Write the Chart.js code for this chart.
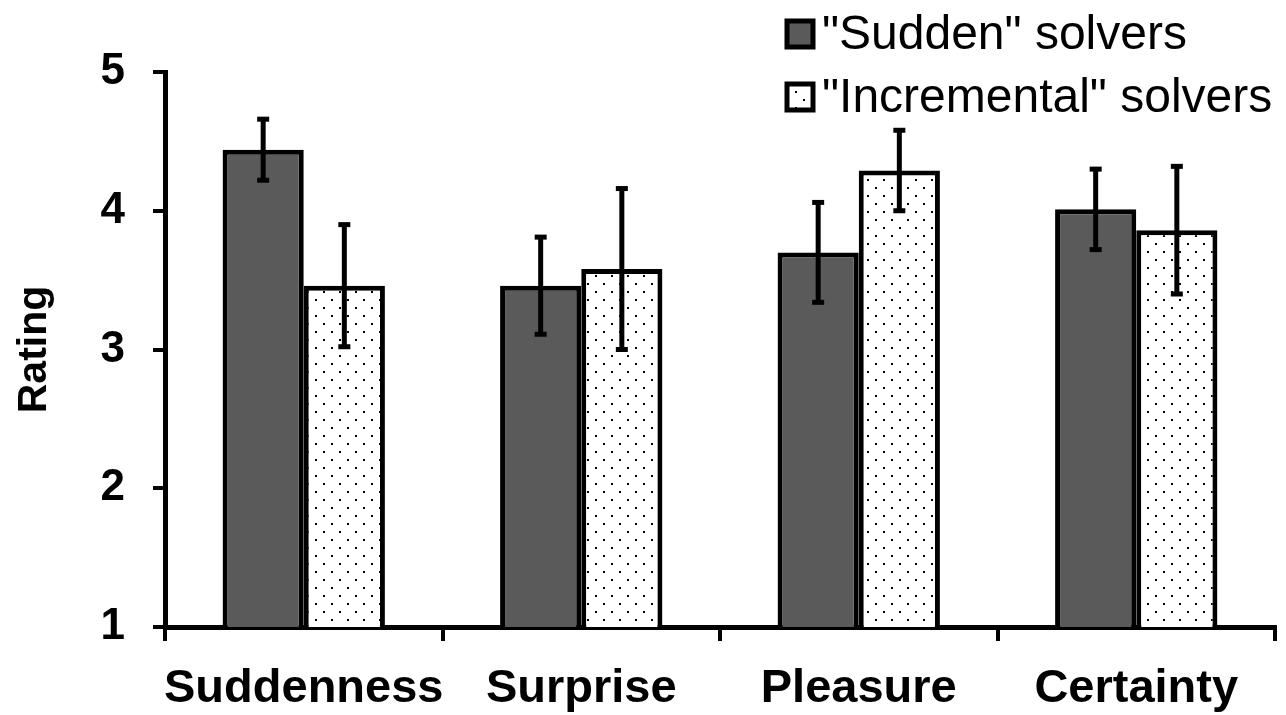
<!DOCTYPE html>
<html>
<head>
<meta charset="utf-8">
<script src="https://cdn.jsdelivr.net/npm/chart.js@4.4.1/dist/chart.umd.min.js"></script>
<style>
  html, body { margin: 0; padding: 0; background: #fff; }
  #wrap { width: 1286px; height: 715px; }
</style>
</head>
<body>
<div id="wrap"><canvas id="c" width="1286" height="715"></canvas></div>
<script>
// Ratings by measure, for the two solver groups (mean and error half-width)
const categories = ['Suddenness', 'Surprise', 'Pleasure', 'Certainty'];
const seriesNames = ['"Sudden" solvers', '"Incremental" solvers'];
const suddenMeans = [4.44, 3.46, 3.70, 4.01];
const suddenErrors = [0.22, 0.35, 0.36, 0.29];
const incrementalMeans = [3.46, 3.58, 4.29, 3.86];
const incrementalErrors = [0.44, 0.58, 0.29, 0.46];
const yTicks = [1, 2, 3, 4, 5];

const FONT = "'Liberation Sans', Arial, sans-serif";
const SUDDEN_FILL = '#5a5a5a';

const canvas = document.getElementById('c');
const ctx = canvas.getContext('2d');

// Stippled white fill for the incremental group
function makeDots(context) {
  const tile = document.createElement('canvas');
  tile.width = 16; tile.height = 16;
  const g = tile.getContext('2d');
  g.fillStyle = '#fff';
  g.fillRect(0, 0, 16, 16);
  g.fillStyle = '#000';
  g.fillRect(3, 3, 2, 2);
  g.fillRect(11, 11, 2, 2);
  return context.createPattern(tile, 'repeat');
}
const dots = makeDots(ctx);

const errorSets = [suddenErrors, incrementalErrors];

// Vertical error bars with flat caps, centred on each bar
const errorBars = {
  id: 'errorBars',
  afterDatasetsDraw(chart) {
    const c = chart.ctx;
    const y = chart.scales.y;
    c.save();
    c.strokeStyle = '#000';
    c.fillStyle = '#000';
    chart.data.datasets.forEach((ds, di) => {
      const meta = chart.getDatasetMeta(di);
      meta.data.forEach((bar, i) => {
        const v = ds.data[i];
        const e = errorSets[di][i];
        const top = y.getPixelForValue(v + e);
        const bot = y.getPixelForValue(v - e);
        c.lineWidth = 5;
        c.beginPath();
        c.moveTo(bar.x, top);
        c.lineTo(bar.x, bot);
        c.stroke();
        c.fillRect(bar.x - 6, top - 2.5, 12, 5);
        c.fillRect(bar.x - 6, bot - 2.5, 12, 5);
      });
    });
    c.restore();
  }
};

// Stacked legend in the upper right corner
const cornerLegend = {
  id: 'cornerLegend',
  afterDraw(chart) {
    const c = chart.ctx;
    const rows = [
      { y: 35, fill: SUDDEN_FILL },
      { y: 98, fill: dots }
    ];
    c.save();
    rows.forEach((r, i) => {
      const bx = 787, by = r.y - 14, bs = 26;
      c.fillStyle = r.fill;
      c.fillRect(bx, by, bs, bs);
      c.lineWidth = 5;
      c.strokeStyle = '#000';
      c.strokeRect(bx, by, bs, bs);
      c.fillStyle = '#000';
      c.font = `48px ${FONT}`;
      c.textBaseline = 'middle';
      c.textAlign = 'left';
      c.fillText(seriesNames[i], 822, r.y + 1);
    });
    c.restore();
  }
};

new Chart(canvas, {
  type: 'bar',
  data: {
    labels: categories,
    datasets: [
      {
        label: seriesNames[0],
        data: suddenMeans,
        backgroundColor: SUDDEN_FILL,
        borderColor: '#000',
        borderWidth: 5,
        borderSkipped: false
      },
      {
        label: seriesNames[1],
        data: incrementalMeans,
        backgroundColor: dots,
        borderColor: '#000',
        borderWidth: 5,
        borderSkipped: false
      }
    ]
  },
  options: {
    responsive: false,
    animation: false,
    devicePixelRatio: 1,
    categoryPercentage: 0.585,
    barPercentage: 1.0,
    layout: { padding: { top: 72, right: 11, bottom: 0, left: 0 } },
    plugins: {
      legend: { display: false },
      tooltip: { enabled: false }
    },
    scales: {
      x: {
        grid: {
          display: true,
          drawOnChartArea: false,
          drawTicks: true,
          tickLength: 14,
          lineWidth: 4,
          color: '#000',
          offset: true
        },
        border: { display: true, width: 5, color: '#000' },
        ticks: {
          color: '#000',
          padding: 20,
          maxRotation: 0,
          minRotation: 0,
          autoSkip: false,
          font: { family: FONT, weight: 'bold', size: 47 }
        },
        afterFit(scale) {
          scale.height = 88;
          scale.paddingLeft = 0;
          scale.paddingRight = 0;
        }
      },
      y: {
        min: yTicks[0],
        max: yTicks[yTicks.length - 1],
        afterBuildTicks(scale) { scale.ticks = yTicks.map(v => ({ value: v })); },
        grid: {
          display: true,
          drawOnChartArea: false,
          drawTicks: true,
          tickLength: 12,
          lineWidth: 4,
          color: '#000'
        },
        border: { display: true, width: 5, color: '#000' },
        ticks: {
          color: '#000',
          padding: 28,
          font: { family: FONT, weight: 'bold', size: 44 }
        },
        title: {
          display: true,
          text: 'Rating',
          color: '#000',
          padding: { top: 10, bottom: 0 },
          font: { family: FONT, weight: 'bold', size: 41 }
        },
        afterFit(scale) { scale.width = 165; }
      }
    }
  },
  plugins: [errorBars, cornerLegend]
});
</script>
</body>
</html>
